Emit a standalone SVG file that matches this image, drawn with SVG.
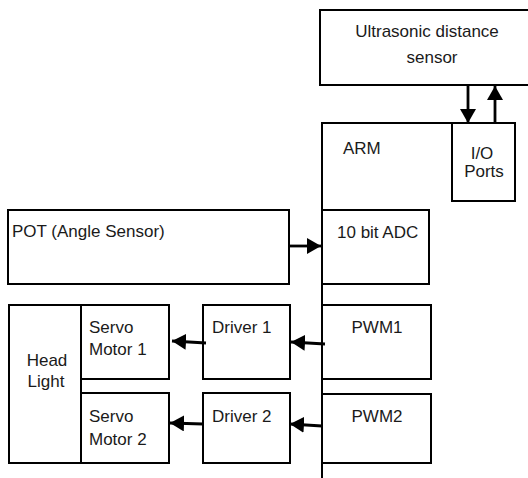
<svg xmlns="http://www.w3.org/2000/svg" width="528" height="478" viewBox="0 0 528 478">
<style>
.box{fill:#fff;stroke:#000;stroke-width:2}
.ln{fill:none;stroke:#000;stroke-width:2}
.t{font-family:"Liberation Sans",Arial,sans-serif;font-size:17px;fill:#1a1a1a}
.c{text-anchor:middle}
.arr{fill:none;stroke:#000;stroke-width:2.8}
</style>
<defs>
<marker id="ah" markerUnits="userSpaceOnUse" markerWidth="15" markerHeight="16" refX="14" refY="8" orient="auto" viewBox="0 0 15 16">
<path d="M0,0 L14,8 L0,16 Z" fill="#000"/>
</marker>
</defs>
<rect width="528" height="478" fill="#fff"/>
<g id="ultrasonic">
<rect class="box" x="320" y="10" width="212" height="75"/>
<text class="t c" x="427" y="37">Ultrasonic distance</text>
<text class="t c" x="432" y="63">sensor</text>
</g>
<g id="arm">
<path class="ln" d="M322,478 L322,123 L452,123"/>
<text class="t" x="343" y="154">ARM</text>
</g>
<g id="io-ports">
<rect class="box" x="452" y="123" width="63" height="78"/>
<text class="t c" x="482" y="159">I/O</text>
<text class="t c" x="484" y="177">Ports</text>
</g>
<g id="adc">
<rect class="box" x="322" y="210" width="107" height="74"/>
<text class="t" x="337" y="238">10 bit ADC</text>
</g>
<g id="pot">
<rect class="box" x="8" y="210" width="281" height="74"/>
<text class="t" x="12" y="237">POT (Angle Sensor)</text>
</g>
<g id="pwm1">
<rect class="box" x="322" y="305" width="109" height="74"/>
<text class="t c" x="377" y="333">PWM1</text>
</g>
<g id="pwm2">
<rect class="box" x="322" y="394" width="109" height="69"/>
<text class="t c" x="377" y="422">PWM2</text>
</g>
<g id="driver1">
<rect class="box" x="203" y="305" width="87" height="74"/>
<text class="t" x="212" y="333">Driver 1</text>
</g>
<g id="driver2">
<rect class="box" x="203" y="393" width="87" height="70"/>
<text class="t" x="212" y="422">Driver 2</text>
</g>
<g id="head-light">
<rect class="box" x="9" y="305" width="72" height="158"/>
<text class="t c" x="47" y="366">Head</text>
<text class="t c" x="46" y="387">Light</text>
</g>
<g id="servo1">
<rect class="box" x="81" y="305" width="88" height="74"/>
<text class="t" x="89" y="333">Servo</text>
<text class="t" x="89" y="355">Motor 1</text>
</g>
<g id="servo2">
<rect class="box" x="81" y="393" width="88" height="70"/>
<text class="t" x="89" y="422">Servo</text>
<text class="t" x="89" y="445">Motor 2</text>
</g>
<g id="connectors">
<line class="arr" x1="468" y1="85" x2="468" y2="123" marker-end="url(#ah)"/>
<line class="arr" x1="495" y1="123" x2="495" y2="86" marker-end="url(#ah)"/>
<line class="arr" x1="289" y1="246" x2="321" y2="246" marker-end="url(#ah)"/>
<line class="arr" x1="325" y1="344" x2="291" y2="342" marker-end="url(#ah)"/>
<line class="arr" x1="206" y1="343" x2="172" y2="341" marker-end="url(#ah)"/>
<line class="arr" x1="322" y1="426" x2="290" y2="424" marker-end="url(#ah)"/>
<line class="arr" x1="203" y1="424" x2="170" y2="423" marker-end="url(#ah)"/>
</g>
</svg>
